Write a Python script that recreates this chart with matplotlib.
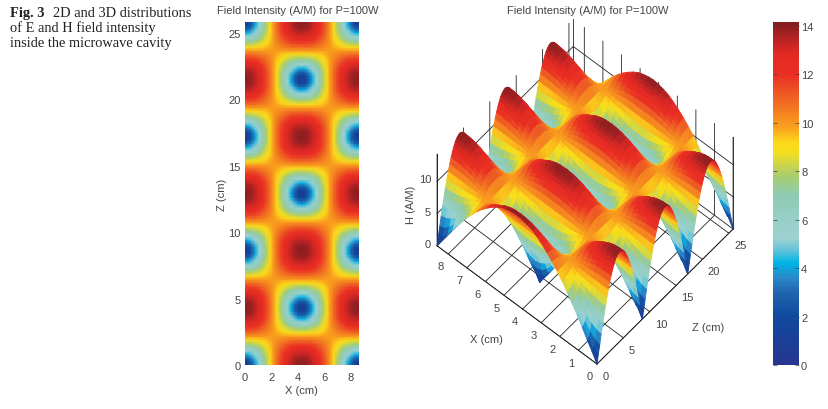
import numpy as np
import matplotlib
matplotlib.use("Agg")
import matplotlib.pyplot as plt
from matplotlib.colors import LinearSegmentedColormap, Normalize
from matplotlib.cm import ScalarMappable
from mpl_toolkits.mplot3d import proj3d

# Field intensity (A/M) over half of a quarter cell: rows run along Z, columns along X.
half_quarter = np.array([
    [0.0, 1.4, 2.7, 4.1, 5.4, 6.6, 7.8, 8.9, 9.9, 10.8, 11.6, 12.3, 12.9, 13.4, 13.7, 13.9, 14.0],
    [1.4, 1.9, 3.0, 4.3, 5.5, 6.7, 7.8, 8.9, 9.9, 10.8, 11.6, 12.3, 12.9, 13.3, 13.7, 13.9, 13.9],
    [2.7, 3.0, 3.8, 4.8, 5.8, 6.9, 8.0, 9.0, 9.9, 10.8, 11.5, 12.2, 12.7, 13.2, 13.5, 13.7, 13.7],
    [4.1, 4.3, 4.8, 5.5, 6.4, 7.3, 8.2, 9.1, 9.9, 10.7, 11.4, 12.0, 12.5, 12.9, 13.2, 13.3, 13.4],
    [5.4, 5.5, 5.8, 6.4, 7.0, 7.7, 8.5, 9.2, 9.9, 10.6, 11.2, 11.7, 12.1, 12.5, 12.7, 12.9, 12.9],
    [6.6, 6.7, 6.9, 7.3, 7.7, 8.2, 8.8, 9.3, 9.9, 10.4, 10.9, 11.3, 11.7, 12.0, 12.2, 12.3, 12.3],
    [7.8, 7.8, 8.0, 8.2, 8.5, 8.8, 9.1, 9.5, 9.9, 10.3, 10.6, 10.9, 11.2, 11.4, 11.5, 11.6, 11.6],
    [8.9, 8.9, 9.0, 9.1, 9.2, 9.3, 9.5, 9.7, 9.9, 10.1, 10.3, 10.4, 10.6, 10.7, 10.8, 10.8, 10.8],
    [9.9, 9.9, 9.9, 9.9, 9.9, 9.9, 9.9, 9.9, 9.9, 9.9, 9.9, 9.9, 9.9, 9.9, 9.9, 9.9, 9.9],
])
cell_size_cm = 8.6
half_cells_z = 6
h_limit = 14.3
x_ticks = [0, 1, 2, 3, 4, 5, 6, 7, 8]
x_ticks_flat = [0, 2, 4, 6, 8]
z_ticks_flat = [0, 5, 10, 15, 20, 25]
h_ticks = [0, 5, 10]
bar_ticks = [0, 2, 4, 6, 8, 10, 12, 14]
title = "Field Intensity (A/M) for P=100W"

# Unfold the table across the cavity and along its length.
quarter_cell = np.vstack([half_quarter, half_quarter[-2::-1, ::-1]])
across = np.hstack([quarter_cell, quarter_cell[:, -2::-1]])
rows = [across]
for k in range(half_cells_z - 1):
    rows.append(across[-2::-1] if k % 2 == 0 else across[1:])
field = np.vstack(rows)
x = np.linspace(0, cell_size_cm, field.shape[1])
z = np.linspace(0, cell_size_cm * half_cells_z / 2, field.shape[0])

anchors = [(0, "#27358f"), (2, "#0f4a9e"), (3, "#1f66ae"), (3.6, "#2a88c8"), (4.2, "#00b4e6"),
           (4.7, "#5fc3d9"), (5.2, "#9ed2d2"), (6, "#97cfc6"), (7, "#8ecbb4"), (7.8, "#a8cd6e"),
           (8.3, "#cfd548"), (8.8, "#f5df1b"), (9.2, "#fcd81a"), (9.8, "#f9a21e"), (10.5, "#f47c20"),
           (11.2, "#ee5a24"), (12, "#ea2e24"), (12.8, "#e32a22"), (13.3, "#c42525"), (14.15, "#801d1f")]
vmax = 14.15
cmap = LinearSegmentedColormap.from_list("field", [(v / vmax, c) for v, c in anchors], N=256)
norm = Normalize(0, vmax)

W, H = 829, 410
DARK = "#444444"
plt.rcParams["font.family"] = ["Liberation Sans", "DejaVu Sans"]
plt.rcParams["font.size"] = 8
fig = plt.figure(figsize=(W / 100, H / 100), dpi=100)


def rect(left, top, right, bottom):
    return [left / W, 1 - bottom / H, (right - left) / W, (bottom - top) / H]


# Caption
serif = ["Liberation Serif", "DejaVu Serif"]
cap = dict(family=serif, fontsize=10.4, color="#222222")
fig.text(10 / W, 1 - 17 / H, "Fig. 3", weight="bold", **cap)
fig.text(53 / W, 1 - 17 / H, "2D and 3D distributions", **cap)
fig.text(10 / W, 1 - 32 / H, "of E and H field intensity", **cap)
fig.text(10 / W, 1 - 47 / H, "inside the microwave cavity", **cap)

# Flat map
ax2 = fig.add_axes(rect(245, 23, 358.5, 366))
ax2.pcolormesh(x, z, field, cmap=cmap, norm=norm, shading="gouraud")
ax2.set_xlim(0, cell_size_cm)
ax2.set_ylim(0, z[-1])
ax2.set_xticks(x_ticks_flat)
ax2.set_yticks(z_ticks_flat)
ax2.tick_params(axis="x", length=0, pad=5, colors=DARK, labelsize=8)
ax2.tick_params(axis="y", length=0, pad=3, colors=DARK, labelsize=8)
for s in ax2.spines.values():
    s.set_visible(False)
ax2.set_xlabel("X (cm)", color=DARK, fontsize=8, labelpad=2)
ax2.set_ylabel("Z (cm)", color=DARK, fontsize=8, labelpad=1)
fig.text(298 / W, 1 - 10.5 / H, title, ha="center", va="center", color=DARK, fontsize=8)

# Surface view: Z runs along the right-hand floor edge, X along the left-hand one.
ax3 = fig.add_axes(rect(400, 0, 810, 410), projection="3d", computed_zorder=False,
                   proj_type="ortho", facecolor="none")
ax3.view_init(elev=58.9, azim=-139.2)
ZZ, XX = np.meshgrid(z, x, indexing="ij")
surf = ax3.plot_surface(ZZ, XX, field, cmap=cmap, norm=norm, rstride=1, cstride=1, shade=False,
                        antialiased=True, zorder=2)
surf.set_linewidth(0.7)
surf.set_edgecolor("face")
ax3.set_xlim(0, z[-1], view_margin=0)
ax3.set_ylim(0, cell_size_cm, view_margin=0)
ax3.set_zlim(0, h_limit, view_margin=0)
ax3.set_xticks(z_ticks_flat)
ax3.set_yticks(x_ticks)
ax3.set_zticks(h_ticks)
ax3.set_zticklabels([])
for axis in (ax3.xaxis, ax3.yaxis, ax3.zaxis):
    axis.set_pane_color((1, 1, 1, 0))
    axis.pane.set_edgecolor("none")
    axis.line.set_color("#222222")
    axis.line.set_linewidth(0.6)
    axis._axinfo["grid"].update(color="#222222", linewidth=0.6)
    axis._axinfo["tick"].update(inward_factor=0.0, outward_factor=0.05)
ax3.tick_params(colors=DARK, labelsize=8, pad=-3)
# Corner posts of the walls behind the surface
for cz, cx in [(z[-1], cell_size_cm), (z[-1], 0), (0, cell_size_cm)]:
    ax3.plot([cz, cz], [cx, cx], [0, h_limit], color="#222222", lw=0.6, zorder=0)


# Fit the projected box onto the intended pixel corners.
def to_px(a, b, c):
    u, v, _ = proj3d.proj_transform(a, b, c, ax3.get_proj())
    return ax3.transData.transform((u, v))


aspect = (208, 211, 178)
ax3.set_box_aspect(aspect)
fig.canvas.draw()
origin_px = np.array([597.0, H - 365.0])
left_px = np.array([437.0, H - 247.0])
right_px = np.array([733.0, H - 230.0])
span = to_px(z[-1], 0, 0)[0] - to_px(0, cell_size_cm, 0)[0]
ax3.set_box_aspect(aspect, zoom=(right_px[0] - left_px[0]) / span)
fig.canvas.draw()
offset = origin_px - to_px(0, 0, 0)
p = ax3.get_position()
ax3.set_position([p.x0 + offset[0] / W, p.y0 + offset[1] / H, p.width, p.height])
fig.canvas.draw()

# Tick labels sit flush with their ticks along each edge.
for t in ax3.xaxis.get_major_ticks():
    t.label1.set_ha("left")
for t in ax3.yaxis.get_major_ticks():
    t.label1.set_ha("right")
# Height labels follow the left-hand post.
for h_value in h_ticks:
    px, py = to_px(0, cell_size_cm, h_value)
    fig.text((px - 6) / W, (py + 2) / H, str(h_value), ha="right", va="center",
             color=DARK, fontsize=8)

fig.text(588 / W, 1 - 11 / H, title, ha="center", va="center", color=DARK, fontsize=8)
fig.text(486 / W, 1 - 340 / H, "X (cm)", ha="center", va="center", color=DARK, fontsize=8)
fig.text(708 / W, 1 - 328 / H, "Z (cm)", ha="center", va="center", color=DARK, fontsize=8)
fig.text(411 / W, 1 - 205 / H, "H (A/M)", ha="center", va="center", rotation=90, color=DARK, fontsize=8)

# Colour bar
cax = fig.add_axes(rect(773, 23, 799, 366))
cb = fig.colorbar(ScalarMappable(norm=norm, cmap=cmap), cax=cax, ticks=bar_ticks)
cb.outline.set_visible(False)
cax.tick_params(length=3, direction="in", width=0.5, color=DARK, labelcolor=DARK, labelsize=8, pad=1.5, left=True)

fig.savefig("out.png", dpi=100)
